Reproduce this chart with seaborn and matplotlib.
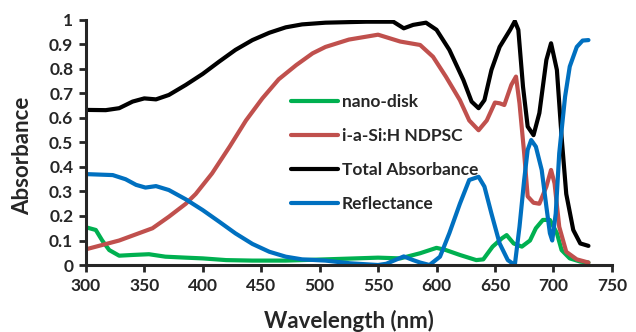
import matplotlib
matplotlib.use("Agg")
import matplotlib.pyplot as plt
import seaborn as sns
import pandas as pd

sns.set_style("ticks")
plt.rcParams['font.family'] = ['Lato', 'DejaVu Sans']

# nano-disk (green)
nd_x = [300, 308.5, 314, 320, 328.5, 340, 354, 368, 385.5, 400, 420, 442.5, 471, 505, 550, 569, 586, 600, 608, 620, 634, 640, 648, 656, 660, 666, 673, 680, 685, 691, 697, 703, 707, 714, 723, 730]
nd_y = [0.154, 0.143, 0.10, 0.061, 0.038, 0.041, 0.044, 0.034, 0.03, 0.027, 0.02, 0.018, 0.018, 0.023, 0.03, 0.027, 0.048, 0.07, 0.061, 0.041, 0.02, 0.023, 0.075, 0.109, 0.122, 0.088, 0.075, 0.10, 0.15, 0.184, 0.184, 0.13, 0.061, 0.027, 0.014, 0.01]

# i-a-Si:H NDPSC (red)
si_x = [300, 328.5, 357, 371, 385.5, 394, 408, 423, 437, 451, 465, 480, 494, 505, 525, 550, 569, 586, 597, 608, 620, 628, 636, 643, 650, 654, 658, 664, 668, 671, 675, 678, 683, 688, 694, 698, 701, 705, 711, 720, 730]
si_y = [0.064, 0.10, 0.15, 0.197, 0.25, 0.29, 0.374, 0.483, 0.59, 0.68, 0.758, 0.816, 0.864, 0.89, 0.92, 0.94, 0.912, 0.898, 0.85, 0.769, 0.673, 0.59, 0.55, 0.59, 0.663, 0.66, 0.653, 0.735, 0.769, 0.66, 0.456, 0.28, 0.254, 0.25, 0.32, 0.388, 0.333, 0.156, 0.054, 0.023, 0.01]

# Total Absorbance (black)
ta_x = [300, 317, 328.5, 340, 350, 360, 371, 385.5, 400, 414, 428, 442.5, 457, 471, 485, 505, 540, 563, 572, 580, 591, 600, 611, 623, 630, 636, 641, 647, 654, 663, 667, 670, 674, 678, 683, 688, 694, 698, 703, 707, 711, 717, 723, 730]
ta_y = [0.633, 0.632, 0.64, 0.667, 0.68, 0.676, 0.694, 0.735, 0.78, 0.83, 0.878, 0.918, 0.948, 0.97, 0.982, 0.989, 0.993, 0.993, 0.966, 0.98, 0.989, 0.96, 0.878, 0.755, 0.667, 0.64, 0.673, 0.796, 0.89, 0.96, 0.995, 0.96, 0.728, 0.565, 0.53, 0.62, 0.837, 0.905, 0.796, 0.524, 0.29, 0.143, 0.088, 0.078]

# Reflectance (blue)
rf_x = [300, 323, 334, 343, 351, 360, 371, 385.5, 400, 414, 428, 442.5, 457, 471, 485, 505, 526, 550, 557, 572, 580, 586, 594, 603, 611, 620, 628, 636, 641, 647, 654, 661, 667, 671, 675, 678, 681, 685, 690, 694, 697, 699, 702, 705, 710, 714, 720, 725, 730]
rf_y = [0.371, 0.367, 0.35, 0.327, 0.316, 0.322, 0.306, 0.268, 0.224, 0.177, 0.129, 0.086, 0.054, 0.034, 0.023, 0.018, 0.007, 0.0, 0.005, 0.035, 0.02, 0.01, 0.0, 0.034, 0.13, 0.25, 0.347, 0.36, 0.32, 0.21, 0.088, 0.02, 0.0, 0.156, 0.347, 0.47, 0.51, 0.483, 0.388, 0.238, 0.13, 0.10, 0.21, 0.456, 0.687, 0.81, 0.89, 0.916, 0.918]

series = [
    ("nano-disk", nd_x, nd_y, "#00b050"),
    ("i-a-Si:H NDPSC", si_x, si_y, "#c0504d"),
    ("Total Absorbance", ta_x, ta_y, "#000000"),
    ("Reflectance", rf_x, rf_y, "#0070c0"),
]

x_ticks = [300, 350, 400, 450, 500, 550, 600, 650, 700, 750]
y_ticks = [0, 0.1, 0.2, 0.3, 0.4, 0.5, 0.6, 0.7, 0.8, 0.9, 1]
y_labels = ["0", "0.1", "0.2", "0.3", "0.4", "0.5", "0.6", "0.7", "0.8", "0.9", "1"]

fig = plt.figure(figsize=(6.36, 3.32), dpi=100)
ax = fig.add_axes([0.135, 0.2018, 0.827, 0.738])

for name, xs, ys, c in series:
    df = pd.DataFrame({"x": xs, "y": ys})
    sns.lineplot(data=df, x="x", y="y", ax=ax, color=c, linewidth=3.0, label=name,
                 sort=False, solid_capstyle="round", solid_joinstyle="round")

ax.set_xlim(300, 750)
ax.set_ylim(0, 1)
ax.set_xticks(x_ticks)
ax.set_yticks(y_ticks)
ax.set_yticklabels(y_labels)
ax.tick_params(axis="both", labelsize=12.5, width=2, length=5, direction="out", pad=4)
for lab in ax.get_xticklabels() + ax.get_yticklabels():
    lab.set_fontweight("bold")
for s in ["top", "right"]:
    ax.spines[s].set_visible(False)
for s in ["left", "bottom"]:
    ax.spines[s].set_linewidth(2.2)
ax.set_xlabel("Wavelength (nm)", fontsize=16, fontweight="bold")
ax.set_ylabel("Absorbance", fontsize=16, fontweight="bold")
ax.xaxis.set_label_coords(0.5, -0.182)
ax.yaxis.set_label_coords(-0.101, 0.445)

leg = ax.legend(loc="upper left", bbox_to_anchor=(0.374, 0.735), frameon=False,
                prop={"size": 12.5, "weight": "bold"}, handlelength=2.7,
                handletextpad=0.2, labelspacing=1.05, borderpad=0)

fig.savefig("out.png", dpi=100)
